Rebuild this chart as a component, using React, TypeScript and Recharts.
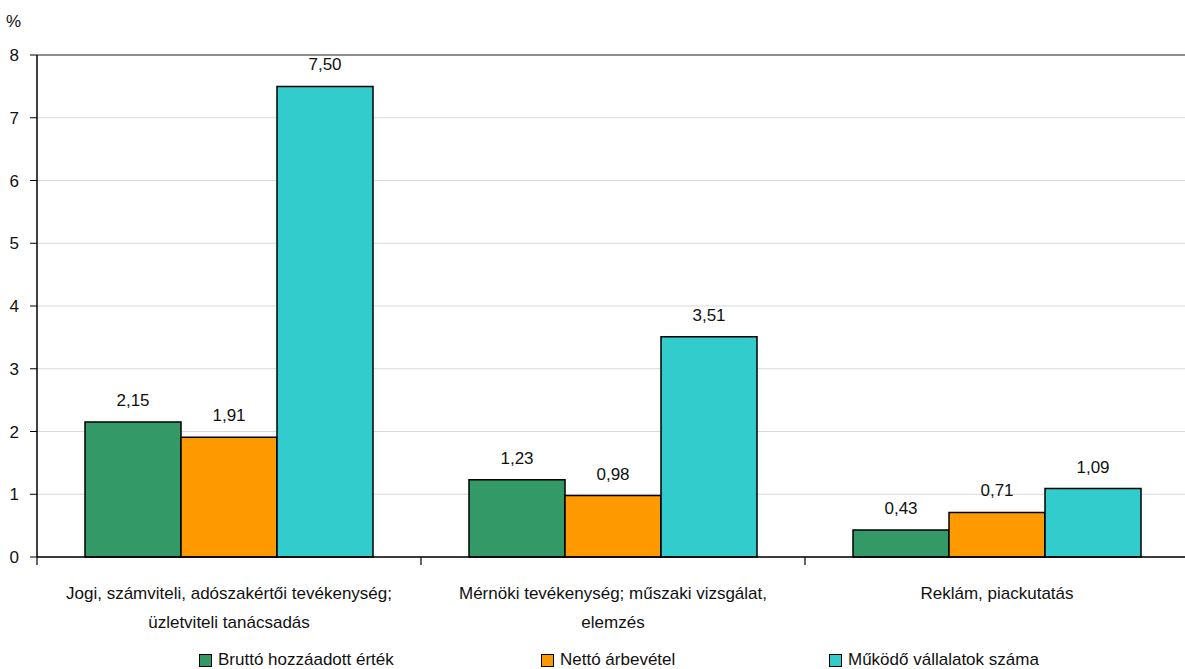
import React from 'react';
import { BarChart, Bar, XAxis, YAxis, CartesianGrid, Legend, LabelList, ReferenceLine } from 'recharts';

const categories = ['Jogi', 'Mernoki', 'Reklam'];
const categoryLines: string[][] = [
  ['Jogi, számviteli, adószakértői tevékenység;', 'üzletviteli tanácsadás'],
  ['Mérnöki tevékenység; műszaki vizsgálat,', 'elemzés'],
  ['Reklám, piackutatás'],
];
const brutto = [2.15, 1.23, 0.43];
const netto = [1.91, 0.98, 0.71];
const mukodo = [7.5, 3.51, 1.09];
const yTicks = [0, 1, 2, 3, 4, 5, 6, 7, 8];

const series = [
  { key: 'brutto', name: 'Bruttó hozzáadott érték', color: '#339966' },
  { key: 'netto', name: 'Nettó árbevétel', color: '#FF9900' },
  { key: 'mukodo', name: 'Működő vállalatok száma', color: '#33CCCC' },
];

const legendSlots = [342, 288, 300];

const data = categories.map((c, i) => ({
  category: c,
  brutto: brutto[i],
  netto: netto[i],
  mukodo: mukodo[i],
}));

const FONT = '"Liberation Sans", Arial, sans-serif';
const FS = 17;

const fmt = (v: any) => Number(v).toFixed(2).replace('.', ',');

const CategoryTick = (props: any) => {
  const { x, y, payload } = props;
  const idx = categories.indexOf(payload.value);
  const half = payload.offset || 192;
  const lines = categoryLines[idx] || [];
  return (
    <g>
      <line x1={x - half} x2={x - half} y1={y} y2={y + 8} stroke="#000" strokeWidth={1.2} />
      <text x={x} y={y} textAnchor="middle" fontSize={FS} fontFamily={FONT} fill="#111">
        {lines.map((l, i) => (
          <tspan key={i} x={x} y={y + 42 + i * 29}>
            {l}
          </tspan>
        ))}
      </text>
    </g>
  );
};

const LegendContent = () => (
  <div style={{ display: 'flex', paddingLeft: 199, fontFamily: FONT, fontSize: FS, color: '#111', height: 18, alignItems: 'center' }}>
    {series.map((s, i) => (
      <div key={s.key} style={{ display: 'flex', alignItems: 'center', width: legendSlots[i] }}>
        <span style={{ width: 11, height: 11, background: s.color, border: '1px solid #000', marginRight: 6, display: 'inline-block' }} />
        <span>{s.name}</span>
      </div>
    ))}
  </div>
);

export default function App() {
  return (
    <div style={{ position: 'absolute', left: 0, top: 0, width: 1185, height: 669, overflow: 'hidden', background: '#fff' }}>
      <BarChart
        width={1190}
        height={669}
        data={data}
        margin={{ top: 55, right: 1, left: 0, bottom: 0 }}
        barCategoryGap="12.5%"
        barGap={0}
      >
        <CartesianGrid vertical={false} stroke="#d9d9d9" strokeWidth={1} />
        <ReferenceLine y={8} stroke="#333" strokeWidth={1.2} />
        <XAxis
          dataKey="category"
          tick={<CategoryTick />}
          tickLine={false}
          tickSize={0}
          tickMargin={0}
          height={94}
          axisLine={{ stroke: '#000', strokeWidth: 1.5 }}
          interval={0}
        />
        <YAxis
          domain={[0, 8]}
          ticks={yTicks}
          width={37}
          tickSize={7}
          tickMargin={11}
          interval={0}
          tick={{ fill: '#111', fontSize: FS, fontFamily: FONT }}
          tickLine={{ stroke: '#000' }}
          axisLine={{ stroke: '#000', strokeWidth: 1.5 }}
          label={{ value: '%', position: 'top', offset: 28, dx: -5, fill: '#111', fontSize: FS, fontFamily: FONT }}
        />
        <Legend verticalAlign="bottom" content={<LegendContent />} wrapperStyle={{ left: 0, width: 1185, bottom: 0 }} />
        {series.map((s) => (
          <Bar key={s.key} dataKey={s.key} name={s.name} fill={s.color} stroke="#000" strokeWidth={1.5} isAnimationActive={false}>
            <LabelList dataKey={s.key} position="top" offset={16} formatter={fmt} fill="#111" fontSize={FS} fontFamily={FONT} />
          </Bar>
        ))}
      </BarChart>
    </div>
  );
}
